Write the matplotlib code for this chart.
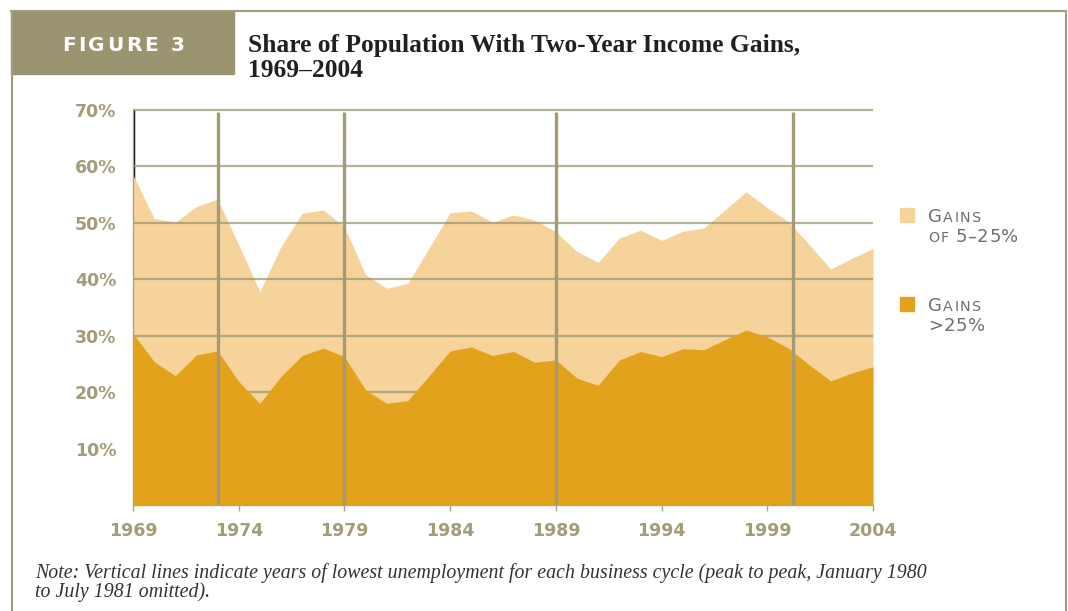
import matplotlib
matplotlib.use('Agg')
import matplotlib.pyplot as plt
from matplotlib.patches import Rectangle
from matplotlib.lines import Line2D
from matplotlib.transforms import IdentityTransform

years = list(range(1969, 2005))
# share of population with two-year income gains above 25 percent
gains_over_25 = [30.4, 25.4, 22.9, 26.6, 27.3, 21.9, 18.0, 22.8, 26.5, 27.8,
                 26.3, 20.4, 18.0, 18.5, 22.9, 27.3, 28.0, 26.5, 27.2, 25.3,
                 25.7, 22.5, 21.2, 25.7, 27.2, 26.3, 27.7, 27.5, 29.3, 31.0,
                 29.8, 27.8, 24.8, 22.0, 23.4, 24.5]
# share with gains of 5 to 25 percent (stacked on top)
gains_5_25 = [28.1, 25.4, 27.2, 26.3, 26.9, 24.2, 19.8, 23.0, 25.2, 24.5,
              23.0, 20.4, 20.4, 20.8, 22.6, 24.5, 24.1, 23.6, 24.2, 25.2,
              22.7, 22.4, 21.8, 21.6, 21.5, 20.6, 20.8, 21.6, 23.0, 24.5,
              22.9, 22.4, 21.3, 19.8, 20.3, 21.0]
cycle_years = [1973, 1979, 1989, 2000.2]
ytick_vals = [10, 20, 30, 40, 50, 60, 70]
ytick_labels = ['10%', '20%', '30%', '40%', '50%', '60%', '70%']
xtick_vals = [1969, 1974, 1979, 1984, 1989, 1994, 1999, 2004]

LIGHT = '#f5d39b'
DARK = '#e3a21c'
OLIVE = '#9b9470'
GRID = '#9e9872'
TICKTXT = '#a39c78'
LEGTXT = '#6d6e70'

W, H = 1068, 611
fig = plt.figure(figsize=(W / 100, H / 100), dpi=100)
renderer = fig.canvas.get_renderer()


def text_runs(x, y, runs, color, weight='normal', family='DejaVu Sans'):
    # place consecutive text pieces in pixel coords (y is the baseline from top)
    for s, size, track in runs:
        pieces = list(s) if track else [s]
        for ch in pieces:
            if ch == ' ':
                x += size * 0.34 * 100 / 72 + track
                continue
            t = fig.text(x, H - y, ch, transform=IdentityTransform(), fontsize=size,
                         color=color, fontweight=weight, family=family, va='baseline')
            x += t.get_window_extent(renderer).width + track
    return x


# frame and header
frame = dict(color='#a39d7c', lw=1.5, transform=IdentityTransform())
fig.add_artist(Line2D([11, 1066], [H - 11, H - 11], **frame))
fig.add_artist(Line2D([12, 12], [H - 11, 0], **frame))
fig.add_artist(Line2D([1066, 1066], [H - 11, 0], **frame))
fig.add_artist(Rectangle((11, H - 74), 223, 63, color=OLIVE, transform=IdentityTransform()))
text_runs(62, 51, [('FIGURE 3', 14.5, 2.6)], 'white', weight='bold')

title_kw = dict(transform=IdentityTransform(), fontsize=18.4, fontweight='bold',
                family='Liberation Serif', color='#231f20', va='baseline')
fig.text(248, H - 52, 'Share of Population With Two-Year Income Gains,', **title_kw)
fig.text(248, H - 77, '1969\u20132004', **title_kw)

# chart
ax = fig.add_axes([133 / W, 1 - 505 / H, 740 / W, 395 / H])
top = [a + b for a, b in zip(gains_over_25, gains_5_25)]
ax.axvline(years[0], color='black', lw=2.5, zorder=0.5)
ax.fill_between(years, 0, top, color=LIGHT, lw=0, zorder=1)
for yv in ytick_vals:
    ax.axhline(yv, color=GRID, lw=1.6, alpha=0.75, zorder=2, clip_on=False,
               solid_capstyle='butt')
ax.fill_between(years, 0, gains_over_25, color=DARK, lw=0, zorder=3)
for cy in cycle_years:
    ax.axvline(cy, ymax=0.995, color='#a29b74', lw=2.4, zorder=4, solid_capstyle='butt')

ax.set_xlim(1969, 2004)
ax.set_ylim(0, 70)
ax.set_yticks(ytick_vals)
ax.set_yticklabels(ytick_labels)
ax.set_xticks(xtick_vals)
ax.set_xticklabels([str(v) for v in xtick_vals])
for s in ['top', 'right']:
    ax.spines[s].set_visible(False)
for s in ['left', 'bottom']:
    ax.spines[s].set_color('#a8a48c')
    ax.spines[s].set_linewidth(1)
ax.tick_params(axis='y', length=0, pad=12, labelsize=12.5, labelcolor=TICKTXT)
ax.tick_params(axis='x', length=4.5, width=1, color='#a8a48c', pad=8,
               labelsize=12.5, labelcolor=TICKTXT)
for lab in ax.get_xticklabels() + ax.get_yticklabels():
    lab.set_fontweight('bold')
ax.patch.set_alpha(0)

# legend
fig.add_artist(Rectangle((900, H - 222), 14, 14, color=LIGHT, transform=IdentityTransform()))
fig.add_artist(Rectangle((900, H - 311), 14, 14, color=DARK, transform=IdentityTransform()))
text_runs(928, 222, [('G', 13, 1.0), ('AINS', 10.3, 1.6)], LEGTXT)
text_runs(928, 242, [('OF', 10.3, 1.6), (' ', 10.3, 0), ('5\u201325%', 13, 0.6)], LEGTXT)
text_runs(928, 311, [('G', 13, 1.0), ('AINS', 10.3, 1.6)], LEGTXT)
text_runs(928, 331, [('>25%', 13, 0.6)], LEGTXT)

note_kw = dict(transform=IdentityTransform(), fontsize=14.3, style='italic',
               family='Liberation Serif', color='#333333', va='baseline')
fig.text(35, H - 578, 'Note: Vertical lines indicate years of lowest unemployment for each '
         'business cycle (peak to peak, January 1980', **note_kw)
fig.text(35, H - 597, 'to July 1981 omitted).', **note_kw)

fig.savefig('out.png', dpi=100, facecolor='white')
